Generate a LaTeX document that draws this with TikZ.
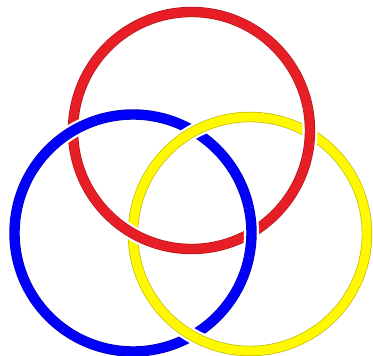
\documentclass[tikz,border=0pt]{standalone}
\definecolor{ringred}{RGB}{232,30,38}
\definecolor{ringblue}{RGB}{0,0,250}
\definecolor{ringyellow}{RGB}{255,248,0}
\tikzset{
  ring/.style={draw=#1!75!black, line width=0.7pt, double=#1, double distance=9pt},
  gap/.style={draw=white, line width=15pt},
}
\begin{document}
\begin{tikzpicture}[x=1pt,y=1pt]
  \useasboundingbox (0,0) rectangle (373,356);
  \coordinate (R) at (191.5,225.5);
  \coordinate (B) at (133,123);
  \coordinate (Y) at (250,122);
  % the three rings
  \draw[ring=ringred] (R) circle (118.5);
  \draw[ring=ringblue] (B) circle (118.5);
  \draw[ring=ringyellow] (Y) circle (117);
  % blue over red
  \foreach \a [evaluate=\a as \s using \a-12] in {120.4,0.1} {
    \draw[gap, shift={(B)}] (\s:118.5) arc[start angle=\s, delta angle=24, radius=118.5];
    \draw[ring=ringblue, shift={(B)}] (\s:118.5) arc[start angle=\s, delta angle=24, radius=118.5];
  }
  % yellow over blue
  \foreach \a [evaluate=\a as \s using \a-12] in {119,240.6} {
    \draw[gap, shift={(Y)}] (\s:117) arc[start angle=\s, delta angle=24, radius=117];
    \draw[ring=ringyellow, shift={(Y)}] (\s:117) arc[start angle=\s, delta angle=24, radius=117];
  }
  % red over yellow
  \foreach \a [evaluate=\a as \s using \a-12] in {-1.5,240.4} {
    \draw[gap, shift={(R)}] (\s:118.5) arc[start angle=\s, delta angle=24, radius=118.5];
    \draw[ring=ringred, shift={(R)}] (\s:118.5) arc[start angle=\s, delta angle=24, radius=118.5];
  }
\end{tikzpicture}
\end{document}
